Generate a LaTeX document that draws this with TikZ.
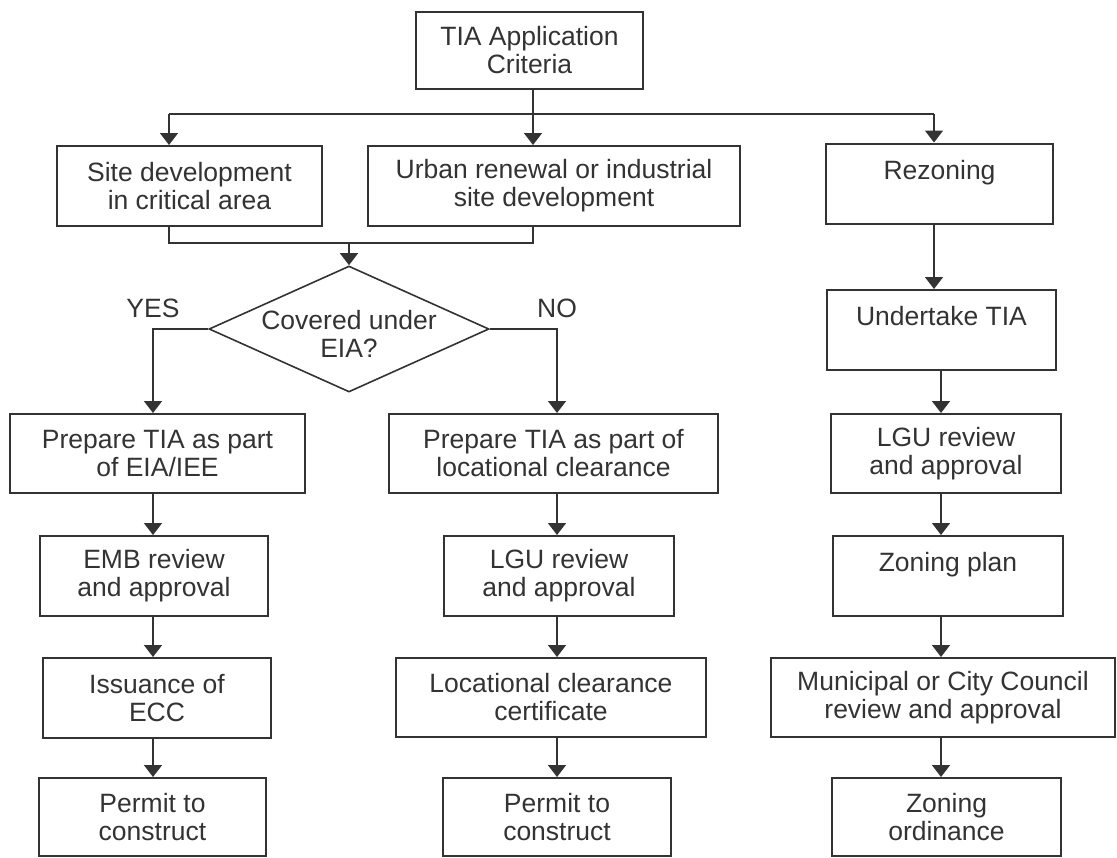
\documentclass[tikz,border=0pt]{standalone}
\usepackage{fontspec}
\setmainfont{Liberation Sans}
\usetikzlibrary{shapes.geometric, arrows.meta}
\tikzset{box/.style={draw=black!80, rectangle, line width=1pt, align=center, inner sep=0pt, minimum height=40pt, font=\fontsize{13.25}{14}\selectfont, text=black!80},
	boxw/.style={minimum width=#1*0.5pt},
	decision/.style={draw=black!80, diamond, line width=.8pt, inner sep=0pt, minimum width=140pt, minimum height=63pt},
	tag/.style={font=\fontsize{13.25}{14}\selectfont, text=black!80, inner sep=0pt, align=center},
	link/.style={line width=.8pt, draw=black!80},
	arr/.style={-{Triangle[width=9pt, length=6pt]}}}
\begin{document}
\begin{tikzpicture}[x=.5pt, y=-.5pt]
	\useasboundingbox (0,0) rectangle (1117,857);
	%Top row
	\node[box, boxw=227, minimum height=38.5pt] (tia) at (529.5,50.5) {TIA Application\\Criteria};
	\node[box, boxw=265] (site) at (189.5,186) {Site development\\in critical area};
	\node[box, boxw=372] (urban) at (554,186) {Urban renewal or industrial\\site development};
	\node[box, boxw=227] (rezon) at (939.5,183.5) {Rezoning\\\mbox{}};
	%Decision
	\node[decision, label={[tag, name=eiatext, yshift=-2.5pt]center:Covered under\\EIA?}] (eia) at (349,329) {};
	\node[box, boxw=229] (undert) at (941.5,330) {Undertake TIA\\\mbox{}};
	%Left column
	\node[box, boxw=295, minimum height=39.5pt] (prepE) at (157.5,453.5) {Prepare TIA as part\\of EIA/IEE};
	\node[box, boxw=228] (emb) at (154,576) {EMB review\\and approval};
	\node[box, boxw=228] (issue) at (157,698) {Issuance of\\ECC};
	\node[box, boxw=227, minimum height=39pt] (permL) at (152.5,817) {Permit to\\construct};
	%Middle column
	\node[box, boxw=329, minimum height=39.5pt] (prepM) at (553.5,453.5) {Prepare TIA as part of\\locational clearance};
	\node[box, boxw=230] (lguM) at (559,576) {LGU review\\and approval};
	\node[box, boxw=310, minimum height=39.5pt] (lcc) at (551,697.5) {Locational clearance\\certificate};
	\node[box, boxw=228, minimum height=39pt] (permM) at (557,817) {Permit to\\construct};
	%Right column
	\node[box, boxw=230, minimum height=39.5pt] (lguR) at (946,453.5) {LGU review\\and approval};
	\node[box, boxw=230] (zplan) at (948,576) {Zoning plan\\\mbox{}};
	\node[box, boxw=344, minimum height=39.5pt] (council) at (943,697.5) {Municipal or City Council\\review and approval};
	\node[box, boxw=229, minimum height=39pt] (zord) at (946.5,817) {Zoning\\ordinance};
	%Branching from the top
	\coordinate (xL) at (169,114);
	\coordinate (xM) at (533,114);
	\coordinate (xR) at (934,114);
	\coordinate (jn) at (349,243);
	\coordinate (colL) at (153,0);
	\coordinate (colM) at (557,0);
	\coordinate (colR) at (941,0);
	\draw[link] (tia.south -| xM) -- (xM);
	\draw[link] (xL) -- (xR);
	\draw[link, arr] (xL) -- (xL |- site.north);
	\draw[link, arr] (xM) -- (xM |- urban.north);
	\draw[link, arr] (xR) -- (xR |- rezon.north);
	%Joining into the decision
	\draw[link] (site.south -| xL) -- (xL |- jn) -- (xM |- jn) -- (urban.south -| xM);
	\draw[link, arr] (jn) -- (eia.north);
	\draw[link, arr] (eia.west) -| (colL |- prepE.north) node[tag, pos=.5, above=5pt] (yes) {YES};
	\draw[link, arr] (eia.east) -| (colM |- prepM.north) node[tag, pos=.5, above=5pt] (no) {NO};
	%Left chain
	\draw[link, arr] (prepE.south -| colL) -- (colL |- emb.north);
	\draw[link, arr] (emb.south -| colL) -- (colL |- issue.north);
	\draw[link, arr] (issue.south -| colL) -- (colL |- permL.north);
	%Middle chain
	\draw[link, arr] (prepM.south -| colM) -- (colM |- lguM.north);
	\draw[link, arr] (lguM.south -| colM) -- (colM |- lcc.north);
	\draw[link, arr] (lcc.south -| colM) -- (colM |- permM.north);
	%Right chain
	\draw[link, arr] (rezon.south -| xR) -- (xR |- undert.north);
	\draw[link, arr] (undert.south -| colR) -- (colR |- lguR.north);
	\draw[link, arr] (lguR.south -| colR) -- (colR |- zplan.north);
	\draw[link, arr] (zplan.south -| colR) -- (colR |- council.north);
	\draw[link, arr] (council.south -| colR) -- (colR |- zord.north);
\end{tikzpicture}
\end{document}
